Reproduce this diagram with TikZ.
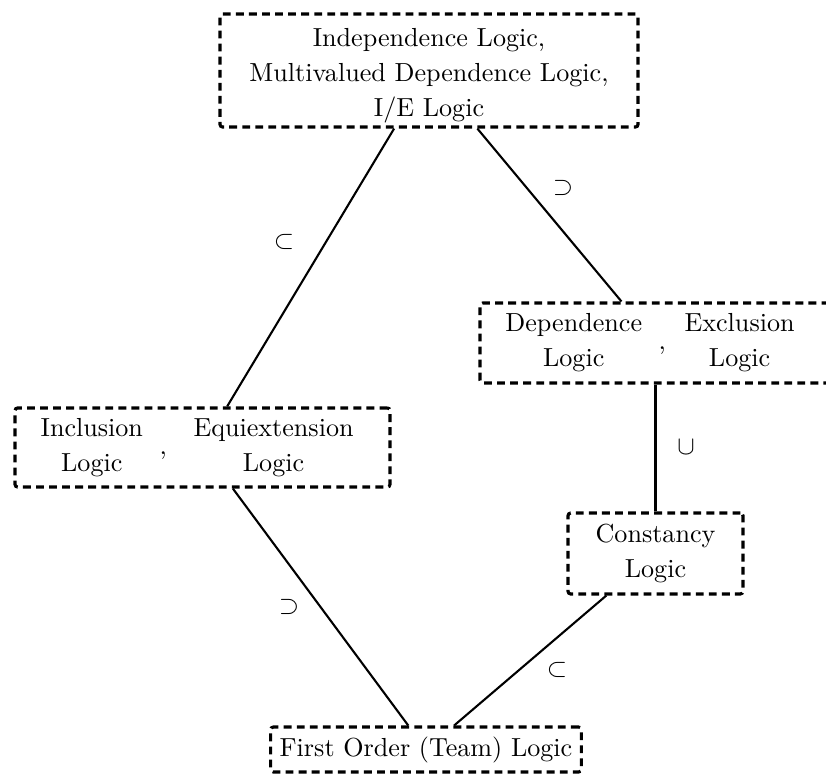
\documentclass[tikz,border=0pt]{standalone}
\usetikzlibrary{calc}
\tikzset{
  box/.style={draw=black, very thick, densely dashed, rounded corners=1pt, inner xsep=3.4pt, inner ysep=3pt, fill=white},
  link/.style={thick, draw=black},
  rel/.style={inner sep=0pt}
}
\begin{document}
\begin{tikzpicture}[x=0.383pt, y=-0.383pt, font=\fontsize{10}{13.4}\selectfont]
\useasboundingbox (0,0) rectangle (826,775);
\node[box, align=center, inner ysep=1pt, minimum width=160.1pt, minimum height=43.3pt] (indep) at (429,70.5)
  {\rule{0pt}{10.7pt}Independence Logic,\\Multivalued Dependence Logic,\\I/E Logic};
\node[box, align=left, text width=128pt, minimum height=30.6pt] (dep) at (656,343)
  {\parbox{65pt}{\centering Dependence\\Logic},\ \parbox{49.8pt}{\centering Exclusion\\Logic}};
\node[box, align=left, text width=136.8pt, minimum height=30.3pt] (incl) at (202.5,447.5)
  {\parbox{52pt}{\centering Inclusion\\Logic},\ \parbox{75pt}{\centering Equiextension\\Logic}};
\node[box, align=center, minimum width=67pt, minimum height=31pt] (cons) at (655.5,553.5)
  {Constancy\\Logic};
\node[box, minimum width=119pt, minimum height=17.2pt, inner ysep=2pt] (first) at (426,749.5)
  {First Order (Team) Logic};
\draw[link] (indep) -- (incl);
\draw[link] (indep) -- (dep);
\draw[link] (dep.south -| cons.north) -- (cons.north);
\draw[link] (incl) -- (first);
\draw[link] (cons) -- (first);
\node[rel] (r1) at (284,242) {$\subset$};
\node[rel] (r2) at (563,188) {$\supset$};
\node[rel] (r3) at (686,447) {$\cup$};
\node[rel] (r4) at (289,607) {$\supset$};
\node[rel] (r5) at (557,670) {$\subset$};
\end{tikzpicture}
\end{document}
